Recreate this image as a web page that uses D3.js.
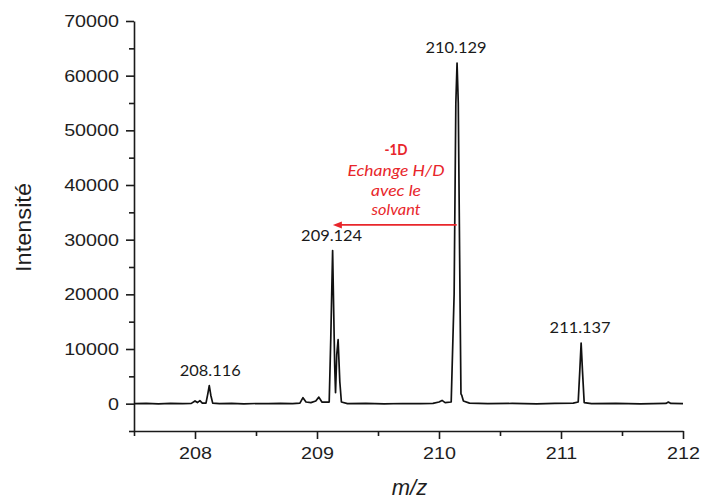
<!DOCTYPE html>
<html>
<head>
<meta charset="utf-8">
<script src="https://cdn.jsdelivr.net/npm/d3@7"></script>
<style>
  html, body { margin: 0; padding: 0; background: #fff; }
  svg { display: block; }
</style>
</head>
<body>
<svg id="chart" width="708" height="501"></svg>
<script>
// ---- data ----
const mz = [
  207.50, 207.60, 207.70, 207.80, 207.90, 207.97, 208.00, 208.02, 208.04, 208.06,
  208.09, 208.105, 208.117, 208.13, 208.145, 208.20, 208.30, 208.40, 208.50, 208.60,
  208.70, 208.80, 208.86, 208.885, 208.91, 208.95, 208.99, 209.015, 209.04, 209.10,
  209.113, 209.128, 209.145, 209.152, 209.162, 209.173, 209.187, 209.20, 209.25, 209.40,
  209.55, 209.70, 209.85, 209.95, 210.00, 210.025, 210.05, 210.10, 210.124, 210.138,
  210.148, 210.158, 210.172, 210.18, 210.187, 210.20, 210.25, 210.40, 210.60, 210.80,
  210.95, 211.10, 211.141, 211.154, 211.165, 211.176, 211.19, 211.25, 211.45, 211.65,
  211.86, 211.88, 211.90, 212.00
];
const intensity = [
  0, 40, -30, 50, 0, 60, 500, 200, 550, 100,
  100, 1800, 3300, 1500, 100, 0, 40, -40, 30, 0,
  50, 0, 100, 1100, 300, 200, 500, 1200, 300, 300,
  12000, 28000, 7000, 2000, 9000, 11700, 4000, 300, 0, 40,
  -30, 30, 0, 60, 300, 600, 200, 300, 20000, 55000,
  62300, 55000, 20000, 1800, 1500, 500, 100, 0, 40, -20,
  60, 100, 300, 6000, 11100, 6000, 200, 0, 40, -30,
  50, 300, 50, 0
];
const peakLabels = ["208.116", "209.124", "210.129", "211.137"];
const peakLabelMz = [208.117, 209.128, 210.148, 211.165];
const peakLabelIntensity = [3300, 28000, 62300, 11100];
const xTicks = [208, 209, 210, 211, 212];
const xMinorTicks = [207.5, 208.5, 209.5, 210.5, 211.5];
const yTicks = [0, 10000, 20000, 30000, 40000, 50000, 60000, 70000];
const yMinorTicks = [-5000, 5000, 15000, 25000, 35000, 45000, 55000, 65000];
const annotationLines = ["-1D", "Echange H/D", "avec le", "solvant"];
const arrowFromMz = 210.145, arrowToMz = 209.13, arrowIntensity = 32700;

// ---- drawing ----
const svg = d3.select("#chart");
const x = d3.scaleLinear().domain([207.5, 212]).range([134, 683]);
const y = d3.scaleLinear().domain([-5000, 70000]).range([431, 21]);
const axisColor = "#1a1a1a";
const tickFont = "Liberation Sans, Arial, sans-serif";
const labelFont = "Lato, 'Open Sans', sans-serif";
const red = "#e8262b";

function stretch(sel, f) {
  sel.each(function () {
    const len = this.getComputedTextLength();
    d3.select(this).attr("textLength", len * f).attr("lengthAdjust", "spacingAndGlyphs");
  });
}

// x axis
svg.append("g").attr("transform", `translate(0,${y(-5000)})`)
  .call(d3.axisBottom(x).tickValues(xTicks).tickSize(8).tickSizeOuter(0).tickPadding(8).tickFormat(d3.format("d")));
svg.append("g").attr("transform", `translate(0,${y(-5000)})`)
  .call(d3.axisBottom(x).tickValues(xMinorTicks).tickSize(5).tickFormat(""))
  .call(g => g.select(".domain").remove());

// y axis
svg.append("g").attr("transform", `translate(${x(207.5)},0)`)
  .call(d3.axisLeft(y).tickValues(yTicks).tickSize(8).tickSizeOuter(0).tickPadding(7).tickFormat(d3.format("d")));
svg.append("g").attr("transform", `translate(${x(207.5)},0)`)
  .call(d3.axisLeft(y).tickValues(yMinorTicks).tickSize(5).tickFormat(""))
  .call(g => g.select(".domain").remove());

svg.selectAll(".domain, .tick line").attr("stroke", axisColor).attr("stroke-width", 1.6);
svg.selectAll(".tick text")
  .attr("fill", "#1e1e1e")
  .style("font-family", tickFont)
  .style("font-size", "17px")
  .call(stretch, 1.16);

// axis titles
svg.append("text")
  .attr("transform", `translate(31,${227.5}) rotate(-90)`)
  .attr("text-anchor", "middle")
  .style("font-family", tickFont).style("font-size", "22px").attr("fill", "#1e1e1e")
  .text("Intensité")
  .attr("textLength", 89).attr("lengthAdjust", "spacingAndGlyphs");

svg.append("text")
  .attr("x", (x(207.5) + x(212)) / 2 + 1).attr("y", 495)
  .attr("text-anchor", "middle")
  .style("font-family", tickFont).style("font-size", "22px").style("font-style", "italic")
  .attr("fill", "#1e1e1e")
  .text("m/z");

// spectrum
const pts = mz.map((m, i) => [m, intensity[i]]);
svg.append("path")
  .datum(pts)
  .attr("fill", "none")
  .attr("stroke", "#111")
  .attr("stroke-width", 1.7)
  .attr("stroke-linejoin", "round")
  .attr("d", d3.line().x(d => x(d[0])).y(d => y(d[1])));

// peak labels
svg.selectAll(".plabel").data(peakLabels).join("text")
  .attr("class", "plabel")
  .attr("x", (d, i) => x(peakLabelMz[i]) + (i === 0 ? 1 : -1))
  .attr("y", (d, i) => y(peakLabelIntensity[i]) - 10)
  .attr("text-anchor", "middle")
  .style("font-family", labelFont).style("font-size", "16px")
  .attr("fill", "#1a1a1a")
  .text(d => d)
  .attr("textLength", 61).attr("lengthAdjust", "spacingAndGlyphs");

// annotation arrow
const ay = y(arrowIntensity);
svg.append("line")
  .attr("x1", x(arrowFromMz)).attr("x2", x(arrowToMz) + 6)
  .attr("y1", ay).attr("y2", ay)
  .attr("stroke", red).attr("stroke-width", 1.6);
const tipX = x(arrowToMz);
svg.append("path")
  .attr("d", `M${tipX},${ay} L${tipX + 9},${ay - 3.5} L${tipX + 9},${ay + 3.5} Z`)
  .attr("fill", red);

// annotation text
const annCx = 396;
const annBase = [155, 176, 196, 215];
const annLen = [23, 97, 50, 49];
svg.selectAll(".ann").data(annotationLines).join("text")
  .attr("class", "ann")
  .attr("x", annCx)
  .attr("y", (d, i) => annBase[i])
  .attr("text-anchor", "middle")
  .style("font-family", labelFont)
  .style("font-size", "16px")
  .style("font-weight", (d, i) => i === 0 ? "bold" : "normal")
  .style("font-style", (d, i) => i === 0 ? "normal" : "italic")
  .attr("fill", red)
  .text(d => d)
  .attr("textLength", (d, i) => annLen[i]).attr("lengthAdjust", "spacingAndGlyphs");
</script>
</body>
</html>
